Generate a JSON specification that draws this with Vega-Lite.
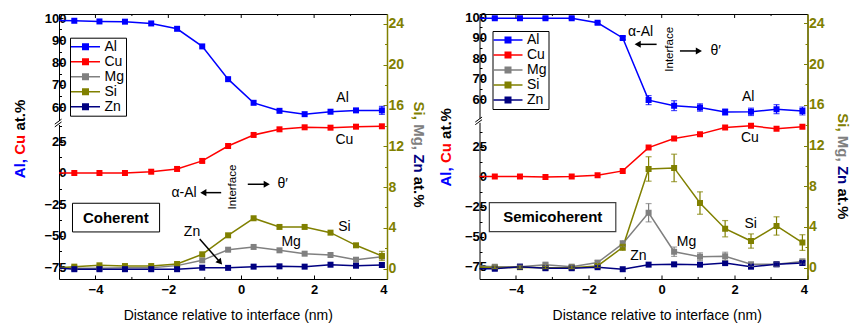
{
"$schema": "https://vega.github.io/schema/vega-lite/v6.json",
"padding": {"left": 12, "top": 10, "right": 0, "bottom": 0},
"bounds": "flush",
"spacing": 92.5,
"config": {
  "font": "Liberation Sans",
  "view": {"stroke": "#000000", "strokeWidth": 1},
  "axis": {"grid": false, "domain": false, "labelFont": "Liberation Sans", "labelFontSize": 13, "labelFontWeight": "bold", "labelColor": "#000000", "tickColor": "#000000", "tickSize": -4, "tickWidth": 1, "labelPadding": 8, "titleFont": "Liberation Sans", "titleFontSize": 15, "titleFontWeight": "bold", "titleColor": "#000000", "titleAlign": "center", "titleBaseline": "middle"},
  "axisLeft": {"titleAngle": -90, "labelPadding": -3},
  "axisRight": {"titleAngle": 90, "labelPadding": 5},
  "axisBottom": {"titleFontWeight": "normal", "titleFontSize": 14},
  "text": {"font": "Liberation Sans", "baseline": "middle", "align": "center"}
},
"datasets": {
"coh": [
{"el":"Al","x":-5.28,"v":99.0},{"el":"Al","x":-4.58,"v":98.8},{"el":"Al","x":-3.89,"v":98.5},{"el":"Al","x":-3.19,"v":98.4},{"el":"Al","x":-2.47,"v":97.6},{"el":"Al","x":-1.76,"v":95.2},{"el":"Al","x":-1.07,"v":87.3},{"el":"Al","x":-0.36,"v":72.6},{"el":"Al","x":0.34,"v":62.0},{"el":"Al","x":1.05,"v":58.4},{"el":"Al","x":1.74,"v":56.9},{"el":"Al","x":2.45,"v":58.0},{"el":"Al","x":3.15,"v":58.6},{"el":"Al","x":3.86,"v":58.6,"e":1.8},
{"el":"Cu","x":-5.28,"v":0},{"el":"Cu","x":-4.58,"v":0},{"el":"Cu","x":-3.89,"v":0},{"el":"Cu","x":-3.19,"v":0},{"el":"Cu","x":-2.47,"v":1.0},{"el":"Cu","x":-1.76,"v":3.2},{"el":"Cu","x":-1.07,"v":9.6},{"el":"Cu","x":-0.36,"v":21.5},{"el":"Cu","x":0.34,"v":30.3},{"el":"Cu","x":1.05,"v":34.8},{"el":"Cu","x":1.74,"v":36.4},{"el":"Cu","x":2.45,"v":36.1},{"el":"Cu","x":3.15,"v":36.9},{"el":"Cu","x":3.86,"v":37.2},
{"el":"Mg","x":-5.28,"v":0.05},{"el":"Mg","x":-4.58,"v":0.05},{"el":"Mg","x":-3.89,"v":0.05},{"el":"Mg","x":-3.19,"v":0.1},{"el":"Mg","x":-2.47,"v":0.1},{"el":"Mg","x":-1.76,"v":0.3},{"el":"Mg","x":-1.07,"v":0.82},{"el":"Mg","x":-0.36,"v":1.86},{"el":"Mg","x":0.34,"v":2.13},{"el":"Mg","x":1.05,"v":1.8},{"el":"Mg","x":1.74,"v":1.47},{"el":"Mg","x":2.45,"v":1.34},{"el":"Mg","x":3.15,"v":0.88},{"el":"Mg","x":3.86,"v":1.18},
{"el":"Si","x":-5.28,"v":0.0},{"el":"Si","x":-4.58,"v":0.2},{"el":"Si","x":-3.89,"v":0.33},{"el":"Si","x":-3.19,"v":0.26},{"el":"Si","x":-2.47,"v":0.26},{"el":"Si","x":-1.76,"v":0.46},{"el":"Si","x":-1.07,"v":1.41},{"el":"Si","x":-0.36,"v":3.27},{"el":"Si","x":0.34,"v":4.94},{"el":"Si","x":1.05,"v":4.09},{"el":"Si","x":1.74,"v":4.09},{"el":"Si","x":2.45,"v":3.53},{"el":"Si","x":3.15,"v":2.29},{"el":"Si","x":3.86,"v":1.25,"e":0.45},
{"el":"Zn","x":-5.28,"v":0.15},{"el":"Zn","x":-4.58,"v":-0.05},{"el":"Zn","x":-3.89,"v":-0.05},{"el":"Zn","x":-3.19,"v":-0.05},{"el":"Zn","x":-2.47,"v":-0.05},{"el":"Zn","x":-1.76,"v":-0.05},{"el":"Zn","x":-1.07,"v":0.1},{"el":"Zn","x":-0.36,"v":0.08},{"el":"Zn","x":0.34,"v":0.2},{"el":"Zn","x":1.05,"v":0.23},{"el":"Zn","x":1.74,"v":0.2},{"el":"Zn","x":2.45,"v":0.39},{"el":"Zn","x":3.15,"v":0.29},{"el":"Zn","x":3.86,"v":0.36,"e":0.2}
],
"semi": [
{"el":"Al","x":-5.28,"v":99.4},{"el":"Al","x":-4.58,"v":99.4,"e":0.5},{"el":"Al","x":-3.89,"v":99.4,"e":0.5},{"el":"Al","x":-3.19,"v":99.4,"e":0.5},{"el":"Al","x":-2.47,"v":99.4,"e":0.5},{"el":"Al","x":-1.76,"v":97.2,"e":0.6},{"el":"Al","x":-1.07,"v":89.8,"e":0.8},{"el":"Al","x":-0.36,"v":59.5,"e":2.2},{"el":"Al","x":0.34,"v":56.8,"e":2.4},{"el":"Al","x":1.05,"v":55.9,"e":1.8},{"el":"Al","x":1.74,"v":53.7,"e":1.5},{"el":"Al","x":2.45,"v":53.8,"e":1.8},{"el":"Al","x":3.15,"v":55.1,"e":2.2},{"el":"Al","x":3.86,"v":54.2,"e":1.9},
{"el":"Cu","x":-5.28,"v":0.25},{"el":"Cu","x":-4.58,"v":0.25},{"el":"Cu","x":-3.89,"v":0.25},{"el":"Cu","x":-3.19,"v":0},{"el":"Cu","x":-2.47,"v":0.25},{"el":"Cu","x":-1.76,"v":1.4},{"el":"Cu","x":-1.07,"v":5.0},{"el":"Cu","x":-0.36,"v":24.4},{"el":"Cu","x":0.34,"v":31.9},{"el":"Cu","x":1.05,"v":35.6},{"el":"Cu","x":1.74,"v":41.1},{"el":"Cu","x":2.45,"v":42.5},{"el":"Cu","x":3.15,"v":40.0},{"el":"Cu","x":3.86,"v":41.7},
{"el":"Mg","x":-5.28,"v":0.2},{"el":"Mg","x":-4.58,"v":0.1,"e":0.15},{"el":"Mg","x":-3.89,"v":0.1,"e":0.15},{"el":"Mg","x":-3.19,"v":0.3,"e":0.15},{"el":"Mg","x":-2.47,"v":0.1,"e":0.15},{"el":"Mg","x":-1.76,"v":0.5,"e":0.2},{"el":"Mg","x":-1.07,"v":2.36,"e":0.3},{"el":"Mg","x":-0.36,"v":5.4,"e":0.9},{"el":"Mg","x":0.34,"v":1.57,"e":0.46},{"el":"Mg","x":1.05,"v":1.08,"e":0.38},{"el":"Mg","x":1.74,"v":1.12,"e":0.4},{"el":"Mg","x":2.45,"v":0.33,"e":0.2},{"el":"Mg","x":3.15,"v":0.33,"e":0.2},{"el":"Mg","x":3.86,"v":0.6,"e":0.25},
{"el":"Si","x":-5.28,"v":0.1},{"el":"Si","x":-4.58,"v":0.0,"e":0.1},{"el":"Si","x":-3.89,"v":0.05,"e":0.1},{"el":"Si","x":-3.19,"v":0.0,"e":0.1},{"el":"Si","x":-2.47,"v":0.0,"e":0.1},{"el":"Si","x":-1.76,"v":0.17,"e":0.15},{"el":"Si","x":-1.07,"v":2.0,"e":0.3},{"el":"Si","x":-0.36,"v":9.7,"e":1.2},{"el":"Si","x":0.34,"v":9.8,"e":1.35},{"el":"Si","x":1.05,"v":6.35,"e":1.1},{"el":"Si","x":1.74,"v":3.83,"e":0.8},{"el":"Si","x":2.45,"v":2.62,"e":0.7},{"el":"Si","x":3.15,"v":4.1,"e":0.9},{"el":"Si","x":3.86,"v":2.47,"e":0.77},
{"el":"Zn","x":-5.28,"v":-0.1},{"el":"Zn","x":-4.58,"v":-0.1},{"el":"Zn","x":-3.89,"v":0.1},{"el":"Zn","x":-3.19,"v":-0.05},{"el":"Zn","x":-2.47,"v":-0.05},{"el":"Zn","x":-1.76,"v":0.05},{"el":"Zn","x":-1.07,"v":-0.15},{"el":"Zn","x":-0.36,"v":0.3},{"el":"Zn","x":0.34,"v":0.33,"e":0.15},{"el":"Zn","x":1.05,"v":0.3,"e":0.15},{"el":"Zn","x":1.74,"v":0.45,"e":0.15},{"el":"Zn","x":2.45,"v":0.1,"e":0.15},{"el":"Zn","x":3.15,"v":0.33,"e":0.15},{"el":"Zn","x":3.86,"v":0.45,"e":0.2}
],
"annC": [
{"k":"label","t":"Al","x":2.78,"y":16.7},{"k":"label","t":"Cu","x":2.83,"y":12.58},{"k":"label","t":"Si","x":2.83,"y":4.12},{"k":"label","t":"Mg","x":1.37,"y":2.65},{"k":"label","t":"Zn","x":-1.35,"y":3.63},{"k":"label","t":"α-Al","x":-1.57,"y":7.45},{"k":"label","t":"θ′","x":1.14,"y":8.27},
{"k":"iface","t":"Interface","x":-0.23,"y":8.0},
{"k":"box","x":-4.63,"x2":-2.24,"y":3.6,"y2":6.41},
{"k":"boxlabel","t":"Coherent","x":-3.44,"y":5.0},
{"k":"arrow","x":-0.55,"x2":-1.04,"y":7.45,"y2":7.45},{"k":"arrow","x":0.18,"x2":0.70,"y":8.27,"y2":8.27},{"k":"arrow","x":-1.14,"x2":-0.58,"y":2.91,"y2":0.63},
{"k":"headL","x":-1.04,"y":7.45},{"k":"headR","x":0.70,"y":8.27},{"k":"headD","x":-0.58,"y":0.63},
{"k":"gap","x":-5.04,"x2":-4.96,"y":14.08,"y2":14.47},
{"k":"brk","x":-5.115,"x2":-4.93,"y":14.16,"y2":14.65},{"k":"brk","x":-5.115,"x2":-4.93,"y":13.89,"y2":14.38},
{"k":"tk","x":-4,"y":24.95,"y2":24.56},{"k":"tk","x":-2,"y":24.95,"y2":24.56},{"k":"tk","x":0,"y":24.95,"y2":24.56},{"k":"tk","x":2,"y":24.95,"y2":24.56},
{"k":"tk","x":-3,"y":24.95,"y2":24.75},{"k":"tk","x":-1,"y":24.95,"y2":24.75},{"k":"tk","x":1,"y":24.95,"y2":24.75},{"k":"tk","x":3,"y":24.95,"y2":24.75},
{"k":"tk","x":-3,"y":-1.01,"y2":-0.81},{"k":"tk","x":-1,"y":-1.01,"y2":-0.81},{"k":"tk","x":1,"y":-1.01,"y2":-0.81},{"k":"tk","x":3,"y":-1.01,"y2":-0.81}
],
"annS": [
{"k":"label","t":"Al","x":2.37,"y":16.8},{"k":"label","t":"Cu","x":2.42,"y":12.77},{"k":"label","t":"Si","x":2.44,"y":4.26},{"k":"label","t":"Mg","x":0.68,"y":2.55},{"k":"label","t":"Zn","x":-0.64,"y":1.15},{"k":"label","t":"α-Al","x":-0.58,"y":23.18},{"k":"label","t":"θ′","x":1.48,"y":21.29},
{"k":"iface","t":"Interface","x":0.24,"y":21.45},
{"k":"box","x":-4.73,"x2":-1.26,"y":3.54,"y2":6.39},
{"k":"boxlabel","t":"Semicoherent","x":-2.99,"y":4.96},
{"k":"arrow","x":-0.14,"x2":-0.66,"y":21.94,"y2":21.94},{"k":"arrow","x":0.50,"x2":1.02,"y":21.29,"y2":21.29},
{"k":"headL","x":-0.66,"y":21.94},{"k":"headR","x":1.02,"y":21.29},
{"k":"gap","x":-5.04,"x2":-4.96,"y":14.23,"y2":14.62},
{"k":"brk","x":-5.115,"x2":-4.93,"y":14.31,"y2":14.8},{"k":"brk","x":-5.115,"x2":-4.93,"y":14.05,"y2":14.54},
{"k":"tk","x":-4,"y":24.92,"y2":24.53},{"k":"tk","x":-2,"y":24.92,"y2":24.53},{"k":"tk","x":0,"y":24.92,"y2":24.53},{"k":"tk","x":2,"y":24.92,"y2":24.53},
{"k":"tk","x":-3,"y":24.92,"y2":24.72},{"k":"tk","x":-1,"y":24.92,"y2":24.72},{"k":"tk","x":1,"y":24.92,"y2":24.72},{"k":"tk","x":3,"y":24.92,"y2":24.72},
{"k":"tk","x":-3,"y":-1.11,"y2":-0.91},{"k":"tk","x":-1,"y":-1.11,"y2":-0.91},{"k":"tk","x":1,"y":-1.11,"y2":-0.91},{"k":"tk","x":3,"y":-1.11,"y2":-0.91}
]
},
"resolve": {"scale": {"color": "independent"}},
"hconcat": [
{
"width": 328, "height": 265,
"resolve": {"scale": {"y": "independent"}, "axis": {"y": "independent"}},
"layer": [
{"data": {"name": "coh"}, "transform": [{"filter": "datum.el === 'Al'"}],
 "mark": {"type": "line", "color": "#0000ff", "strokeWidth": 1.5, "clip": true, "point": {"filled": true, "shape": "square", "size": 36, "color": "#0000ff", "clip": true}},
 "encoding": {
  "x": {"field": "x", "type": "quantitative", "scale": {"domain": [-5, 4], "nice": false, "zero": false}, "axis": {"values": [-4, -2, 0, 2, 4], "title": "Distance relative to interface (nm)", "titleX": 168.8, "titleY": 36.3}},
  "y": {"field": "v", "type": "quantitative", "scale": {"domain": [-17.05, 101.84], "nice": false, "zero": false}, "axis": {"orient": "left", "values": [60, 70, 80, 90, 100], "title": "Al,", "titleColor": "#0000ff", "titleX": -39.5, "titleY": 154.1}}}},
{"data": {"name": "coh"}, "transform": [{"filter": "datum.el === 'Al' && isValid(datum.e)"}],
 "mark": {"type": "errorbar", "color": "#0000ff", "thickness": 1.2, "ticks": {"size": 6}},
 "encoding": {
  "x": {"field": "x", "type": "quantitative", "scale": {"domain": [-5, 4], "nice": false, "zero": false}},
  "y": {"field": "v", "type": "quantitative", "scale": {"domain": [-17.05, 101.84], "nice": false, "zero": false}, "axis": {"orient": "left", "title": "at.%", "values": [65, 75, 85, 95], "labels": false, "tickSize": -2.5, "titleX": -39.5, "titleY": 100.7}},
  "yError": {"field": "e"}}},
{"data": {"name": "coh"}, "transform": [{"filter": "datum.el === 'Cu'"}],
 "mark": {"type": "point", "opacity": 0},
 "encoding": {
  "x": {"field": "x", "type": "quantitative", "scale": {"domain": [-5, 4], "nice": false, "zero": false}},
  "y": {"field": "v", "type": "quantitative", "scale": {"domain": [-84.5, 126.7], "nice": false, "zero": false}, "axis": {"orient": "left", "values": [37.5, 12.5, -12.5, -37.5, -62.5], "labels": false, "tickSize": -2.5, "title": null}}}},
{"data": {"name": "coh"}, "transform": [{"filter": "datum.el === 'Cu'"}],
 "mark": {"type": "line", "color": "#ff0000", "strokeWidth": 1.5, "clip": true, "point": {"filled": true, "shape": "square", "size": 36, "color": "#ff0000", "clip": true}},
 "encoding": {
  "x": {"field": "x", "type": "quantitative", "scale": {"domain": [-5, 4], "nice": false, "zero": false}},
  "y": {"field": "v", "type": "quantitative", "scale": {"domain": [-84.5, 126.7], "nice": false, "zero": false}, "axis": {"orient": "left", "values": [-75, -50, -25, 0, 25], "title": "Cu", "titleColor": "#ff0000", "titleX": -39.5, "titleY": 130.3}}}},
{"data": {"name": "coh"}, "transform": [{"filter": "indexof(['Mg','Si','Zn'], datum.el) >= 0"}],
 "mark": {"type": "line", "strokeWidth": 1.5, "clip": true, "point": {"filled": true, "shape": "square", "size": 36, "clip": true}},
 "encoding": {
  "x": {"field": "x", "type": "quantitative", "scale": {"domain": [-5, 4], "nice": false, "zero": false}},
  "y": {"field": "v", "type": "quantitative", "scale": {"domain": [-1.01, 24.95], "nice": false, "zero": false}, "axis": {"orient": "right", "values": [0, 4, 8, 12, 16, 20, 24], "domain": true, "domainColor": "#808000", "domainWidth": 1.5, "tickColor": "#808000", "labelColor": "#808000", "labelFontSize": 14, "title": "Si,", "titleColor": "#808000", "titleX": 31.1, "titleY": 96.2}},
  "color": {"field": "el", "type": "nominal", "scale": {"domain": ["Al", "Cu", "Mg", "Si", "Zn"], "range": ["#0000ff", "#ff0000", "#808080", "#808000", "#000080"]},
   "legend": {"title": null, "orient": "none", "legendX": 11, "legendY": 23.7, "symbolType": "M-3.625,-0.2L3.625,-0.2L3.625,0.2L-3.625,0.2ZM-0.875,-0.875L0.875,-0.875L0.875,0.875L-0.875,0.875Z", "symbolSize": 64, "symbolOffset": 6.5, "symbolStrokeWidth": 0, "labelOffset": 12, "labelFont": "Liberation Sans", "labelFontSize": 14, "labelColor": "#000000", "strokeColor": "#000000", "fillColor": "#ffffff", "padding": 2, "rowPadding": 1,
    "encoding": {"symbols": {"update": {"fill": {"signal": "datum.value === 'Al' ? '#0000ff' : datum.value === 'Cu' ? '#ff0000' : datum.value === 'Mg' ? '#808080' : datum.value === 'Si' ? '#808000' : '#000080'"}, "stroke": {"value": "transparent"}, "opacity": {"value": 1}}}}}}}},
{"data": {"name": "coh"}, "transform": [{"filter": "datum.el === 'Si' && isValid(datum.e)"}],
 "mark": {"type": "errorbar", "color": "#808000", "thickness": 1.2, "ticks": {"size": 6}},
 "encoding": {
  "x": {"field": "x", "type": "quantitative", "scale": {"domain": [-5, 4], "nice": false, "zero": false}},
  "y": {"field": "v", "type": "quantitative", "scale": {"domain": [-1.01, 24.95], "nice": false, "zero": false}, "axis": {"orient": "right", "values": [2, 6, 10, 14, 18, 22], "labels": false, "tickSize": -2.5, "tickColor": "#808000", "title": null}},
  "yError": {"field": "e"}}},
{"data": {"name": "coh"}, "transform": [{"filter": "datum.el === 'Zn' && isValid(datum.e)"}],
 "mark": {"type": "errorbar", "color": "#000080", "thickness": 1.2, "ticks": {"size": 6}},
 "encoding": {
  "x": {"field": "x", "type": "quantitative", "scale": {"domain": [-5, 4], "nice": false, "zero": false}},
  "y": {"field": "v", "type": "quantitative", "scale": {"domain": [-1.01, 24.95], "nice": false, "zero": false}, "axis": null},
  "yError": {"field": "e"}}},
{"mark": {"type": "rule", "color": "#000000", "strokeWidth": 1},
 "encoding": {"x": {"datum": 0, "type": "quantitative", "scale": {"domain": [-5, 4], "nice": false, "zero": false}}}},
{"data": {"name": "annC"}, "transform": [{"filter": "datum.k === 'tk'"}],
 "mark": {"type": "rule", "color": "#000000", "strokeWidth": 1},
 "encoding": {
  "x": {"field": "x", "type": "quantitative", "scale": {"domain": [-5, 4], "nice": false, "zero": false}},
  "y": {"field": "y", "type": "quantitative", "scale": {"domain": [-1.01, 24.95], "nice": false, "zero": false}, "axis": null}, "y2": {"field": "y2"}}},
{"data": {"name": "annC"}, "transform": [{"filter": "datum.k === 'box' || datum.k === 'gap'"}],
 "mark": {"type": "rect", "fill": "#ffffff", "stroke": "#000000", "strokeWidth": 1},
 "encoding": {
  "x": {"field": "x", "type": "quantitative", "scale": {"domain": [-5, 4], "nice": false, "zero": false}}, "x2": {"field": "x2"},
  "y": {"field": "y", "type": "quantitative", "scale": {"domain": [-1.01, 24.95], "nice": false, "zero": false}, "axis": null}, "y2": {"field": "y2"},
  "strokeOpacity": {"condition": {"test": "datum.k === 'gap'", "value": 0}, "value": 1}}},
{"data": {"name": "annC"}, "transform": [{"filter": "datum.k === 'brk'"}],
 "mark": {"type": "rule", "color": "#000000", "strokeWidth": 1},
 "encoding": {
  "x": {"field": "x", "type": "quantitative", "scale": {"domain": [-5, 4], "nice": false, "zero": false}}, "x2": {"field": "x2"},
  "y": {"field": "y", "type": "quantitative", "scale": {"domain": [-1.01, 24.95], "nice": false, "zero": false}, "axis": null}, "y2": {"field": "y2"}}},
{"data": {"name": "annC"}, "transform": [{"filter": "datum.k === 'boxlabel'"}],
 "mark": {"type": "text", "fontSize": 15, "fontWeight": "bold", "color": "#000000"},
 "encoding": {
  "x": {"field": "x", "type": "quantitative", "scale": {"domain": [-5, 4], "nice": false, "zero": false}},
  "y": {"field": "y", "type": "quantitative", "scale": {"domain": [-1.01, 24.95], "nice": false, "zero": false}, "axis": null},
  "text": {"field": "t"}}},
{"data": {"name": "annC"}, "transform": [{"filter": "datum.k === 'label'"}],
 "mark": {"type": "text", "fontSize": 14, "color": "#000000"},
 "encoding": {
  "x": {"field": "x", "type": "quantitative", "scale": {"domain": [-5, 4], "nice": false, "zero": false}},
  "y": {"field": "y", "type": "quantitative", "scale": {"domain": [-1.01, 24.95], "nice": false, "zero": false}, "axis": {"orient": "right", "title": "Mg,", "titleColor": "#808080", "labels": false, "ticks": false, "titleX": 31.1, "titleY": 122.55}},
  "text": {"field": "t"}}},
{"data": {"name": "annC"}, "transform": [{"filter": "datum.k === 'iface'"}],
 "mark": {"type": "text", "fontSize": 11.5, "angle": 270, "color": "#000000"},
 "encoding": {
  "x": {"field": "x", "type": "quantitative", "scale": {"domain": [-5, 4], "nice": false, "zero": false}},
  "y": {"field": "y", "type": "quantitative", "scale": {"domain": [-1.01, 24.95], "nice": false, "zero": false}, "axis": null},
  "text": {"field": "t"}}},
{"data": {"name": "annC"}, "transform": [{"filter": "datum.k === 'arrow'"}],
 "mark": {"type": "rule", "color": "#000000", "strokeWidth": 1.5},
 "encoding": {
  "x": {"field": "x", "type": "quantitative", "scale": {"domain": [-5, 4], "nice": false, "zero": false}}, "x2": {"field": "x2"},
  "y": {"field": "y", "type": "quantitative", "scale": {"domain": [-1.01, 24.95], "nice": false, "zero": false}, "axis": {"orient": "right", "title": "Zn", "titleColor": "#000080", "labels": false, "ticks": false, "titleX": 31.1, "titleY": 148.9}}, "y2": {"field": "y2"}}},
{"data": {"name": "annC"}, "transform": [{"filter": "datum.k === 'headL'"}],
 "mark": {"type": "point", "shape": "triangle-left", "filled": true, "size": 50, "color": "#000000", "opacity": 1},
 "encoding": {
  "x": {"field": "x", "type": "quantitative", "scale": {"domain": [-5, 4], "nice": false, "zero": false}},
  "y": {"field": "y", "type": "quantitative", "scale": {"domain": [-1.01, 24.95], "nice": false, "zero": false}, "axis": null}}},
{"data": {"name": "annC"}, "transform": [{"filter": "datum.k === 'headR'"}],
 "mark": {"type": "point", "shape": "triangle-right", "filled": true, "size": 50, "color": "#000000", "opacity": 1},
 "encoding": {
  "x": {"field": "x", "type": "quantitative", "scale": {"domain": [-5, 4], "nice": false, "zero": false}},
  "y": {"field": "y", "type": "quantitative", "scale": {"domain": [-1.01, 24.95], "nice": false, "zero": false}, "axis": {"orient": "right", "title": "at.%", "titleColor": "#000000", "labels": false, "ticks": false, "titleX": 31.1, "titleY": 177.7}}}},
{"data": {"name": "annC"}, "transform": [{"filter": "datum.k === 'headD'"}],
 "mark": {"type": "point", "shape": "triangle-up", "angle": 139, "filled": true, "size": 50, "color": "#000000", "opacity": 1},
 "encoding": {
  "x": {"field": "x", "type": "quantitative", "scale": {"domain": [-5, 4], "nice": false, "zero": false}},
  "y": {"field": "y", "type": "quantitative", "scale": {"domain": [-1.01, 24.95], "nice": false, "zero": false}, "axis": null}}}
]
},
{
"width": 328, "height": 265,
"resolve": {"scale": {"y": "independent"}, "axis": {"y": "independent"}},
"layer": [
{"data": {"name": "semi"}, "transform": [{"filter": "datum.el === 'Al'"}],
 "mark": {"type": "line", "color": "#0000ff", "strokeWidth": 1.5, "clip": true, "point": {"filled": true, "shape": "square", "size": 36, "color": "#0000ff", "clip": true}},
 "encoding": {
  "x": {"field": "x", "type": "quantitative", "scale": {"domain": [-5, 4], "nice": false, "zero": false}, "axis": {"values": [-4, -2, 0, 2, 4], "title": "Distance relative to interface (nm)", "titleX": 177.2, "titleY": 36.3}},
  "y": {"field": "v", "type": "quantitative", "scale": {"domain": [-27.67, 101.47], "nice": false, "zero": false}, "axis": {"orient": "left", "values": [60, 70, 80, 90, 100], "title": "Al,", "titleColor": "#0000ff", "titleX": -34.2, "titleY": 162.4}}}},
{"data": {"name": "semi"}, "transform": [{"filter": "datum.el === 'Al' && isValid(datum.e)"}],
 "mark": {"type": "errorbar", "color": "#0000ff", "thickness": 1.2, "ticks": {"size": 6}},
 "encoding": {
  "x": {"field": "x", "type": "quantitative", "scale": {"domain": [-5, 4], "nice": false, "zero": false}},
  "y": {"field": "v", "type": "quantitative", "scale": {"domain": [-27.67, 101.47], "nice": false, "zero": false}, "axis": {"orient": "left", "title": "at.%", "values": [65, 75, 85, 95], "labels": false, "tickSize": -2.5, "titleX": -34.2, "titleY": 109}},
  "yError": {"field": "e"}}},
{"data": {"name": "semi"}, "transform": [{"filter": "datum.el === 'Cu'"}],
 "mark": {"type": "point", "opacity": 0},
 "encoding": {
  "x": {"field": "x", "type": "quantitative", "scale": {"domain": [-5, 4], "nice": false, "zero": false}},
  "y": {"field": "v", "type": "quantitative", "scale": {"domain": [-85.0, 135.6], "nice": false, "zero": false}, "axis": {"orient": "left", "values": [37.5, 12.5, -12.5, -37.5, -62.5], "labels": false, "tickSize": -2.5, "title": null}}}},
{"data": {"name": "semi"}, "transform": [{"filter": "datum.el === 'Cu'"}],
 "mark": {"type": "line", "color": "#ff0000", "strokeWidth": 1.5, "clip": true, "point": {"filled": true, "shape": "square", "size": 36, "color": "#ff0000", "clip": true}},
 "encoding": {
  "x": {"field": "x", "type": "quantitative", "scale": {"domain": [-5, 4], "nice": false, "zero": false}},
  "y": {"field": "v", "type": "quantitative", "scale": {"domain": [-85.0, 135.6], "nice": false, "zero": false}, "axis": {"orient": "left", "values": [-75, -50, -25, 0, 25], "title": "Cu", "titleColor": "#ff0000", "titleX": -34.2, "titleY": 138.6}}}},
{"data": {"name": "semi"}, "transform": [{"filter": "indexof(['Mg','Si','Zn'], datum.el) >= 0"}],
 "mark": {"type": "line", "strokeWidth": 1.5, "clip": true, "point": {"filled": true, "shape": "square", "size": 36, "clip": true}},
 "encoding": {
  "x": {"field": "x", "type": "quantitative", "scale": {"domain": [-5, 4], "nice": false, "zero": false}},
  "y": {"field": "v", "type": "quantitative", "scale": {"domain": [-1.11, 24.92], "nice": false, "zero": false}, "axis": {"orient": "right", "values": [0, 4, 8, 12, 16, 20, 24], "domain": true, "domainColor": "#808000", "domainWidth": 1.5, "tickColor": "#808000", "labelColor": "#808000", "labelFontSize": 14, "title": "Si,", "titleColor": "#808000", "titleX": 34.5, "titleY": 107.9}},
  "color": {"field": "el", "type": "nominal", "scale": {"domain": ["Al", "Cu", "Mg", "Si", "Zn"], "range": ["#0000ff", "#ff0000", "#808080", "#808000", "#000080"]},
   "legend": {"title": null, "orient": "none", "legendX": 13, "legendY": 17, "symbolType": "M-3.625,-0.2L3.625,-0.2L3.625,0.2L-3.625,0.2ZM-0.875,-0.875L0.875,-0.875L0.875,0.875L-0.875,0.875Z", "symbolSize": 64, "symbolOffset": 6.5, "symbolStrokeWidth": 0, "labelOffset": 12, "labelFont": "Liberation Sans", "labelFontSize": 14, "labelColor": "#000000", "strokeColor": "#000000", "fillColor": "#ffffff", "padding": 2, "rowPadding": 1,
    "encoding": {"symbols": {"update": {"fill": {"signal": "datum.value === 'Al' ? '#0000ff' : datum.value === 'Cu' ? '#ff0000' : datum.value === 'Mg' ? '#808080' : datum.value === 'Si' ? '#808000' : '#000080'"}, "stroke": {"value": "transparent"}, "opacity": {"value": 1}}}}}}}},
{"data": {"name": "semi"}, "transform": [{"filter": "datum.el === 'Mg' && isValid(datum.e)"}],
 "mark": {"type": "errorbar", "color": "#808080", "thickness": 1.2, "ticks": {"size": 6}},
 "encoding": {
  "x": {"field": "x", "type": "quantitative", "scale": {"domain": [-5, 4], "nice": false, "zero": false}},
  "y": {"field": "v", "type": "quantitative", "scale": {"domain": [-1.11, 24.92], "nice": false, "zero": false}, "axis": {"orient": "right", "values": [2, 6, 10, 14, 18, 22], "labels": false, "tickSize": -2.5, "tickColor": "#808000", "title": null}},
  "yError": {"field": "e"}}},
{"data": {"name": "semi"}, "transform": [{"filter": "datum.el === 'Si' && isValid(datum.e)"}],
 "mark": {"type": "errorbar", "color": "#808000", "thickness": 1.2, "ticks": {"size": 6}},
 "encoding": {
  "x": {"field": "x", "type": "quantitative", "scale": {"domain": [-5, 4], "nice": false, "zero": false}},
  "y": {"field": "v", "type": "quantitative", "scale": {"domain": [-1.11, 24.92], "nice": false, "zero": false}, "axis": null},
  "yError": {"field": "e"}}},
{"data": {"name": "semi"}, "transform": [{"filter": "datum.el === 'Zn' && isValid(datum.e)"}],
 "mark": {"type": "errorbar", "color": "#000080", "thickness": 1.2, "ticks": {"size": 6}},
 "encoding": {
  "x": {"field": "x", "type": "quantitative", "scale": {"domain": [-5, 4], "nice": false, "zero": false}},
  "y": {"field": "v", "type": "quantitative", "scale": {"domain": [-1.11, 24.92], "nice": false, "zero": false}, "axis": null},
  "yError": {"field": "e"}}},
{"mark": {"type": "rule", "color": "#404040", "strokeWidth": 1.2},
 "encoding": {"x": {"datum": 0, "type": "quantitative", "scale": {"domain": [-5, 4], "nice": false, "zero": false}}}},
{"data": {"name": "annS"}, "transform": [{"filter": "datum.k === 'tk'"}],
 "mark": {"type": "rule", "color": "#000000", "strokeWidth": 1},
 "encoding": {
  "x": {"field": "x", "type": "quantitative", "scale": {"domain": [-5, 4], "nice": false, "zero": false}},
  "y": {"field": "y", "type": "quantitative", "scale": {"domain": [-1.11, 24.92], "nice": false, "zero": false}, "axis": null}, "y2": {"field": "y2"}}},
{"data": {"name": "annS"}, "transform": [{"filter": "datum.k === 'box' || datum.k === 'gap'"}],
 "mark": {"type": "rect", "fill": "#ffffff", "stroke": "#404040", "strokeWidth": 1.2},
 "encoding": {
  "x": {"field": "x", "type": "quantitative", "scale": {"domain": [-5, 4], "nice": false, "zero": false}}, "x2": {"field": "x2"},
  "y": {"field": "y", "type": "quantitative", "scale": {"domain": [-1.11, 24.92], "nice": false, "zero": false}, "axis": null}, "y2": {"field": "y2"},
  "strokeOpacity": {"condition": {"test": "datum.k === 'gap'", "value": 0}, "value": 1}}},
{"data": {"name": "annS"}, "transform": [{"filter": "datum.k === 'brk'"}],
 "mark": {"type": "rule", "color": "#000000", "strokeWidth": 1},
 "encoding": {
  "x": {"field": "x", "type": "quantitative", "scale": {"domain": [-5, 4], "nice": false, "zero": false}}, "x2": {"field": "x2"},
  "y": {"field": "y", "type": "quantitative", "scale": {"domain": [-1.11, 24.92], "nice": false, "zero": false}, "axis": null}, "y2": {"field": "y2"}}},
{"data": {"name": "annS"}, "transform": [{"filter": "datum.k === 'boxlabel'"}],
 "mark": {"type": "text", "fontSize": 15, "fontWeight": "bold", "color": "#000000"},
 "encoding": {
  "x": {"field": "x", "type": "quantitative", "scale": {"domain": [-5, 4], "nice": false, "zero": false}},
  "y": {"field": "y", "type": "quantitative", "scale": {"domain": [-1.11, 24.92], "nice": false, "zero": false}, "axis": null},
  "text": {"field": "t"}}},
{"data": {"name": "annS"}, "transform": [{"filter": "datum.k === 'label'"}],
 "mark": {"type": "text", "fontSize": 14, "color": "#000000"},
 "encoding": {
  "x": {"field": "x", "type": "quantitative", "scale": {"domain": [-5, 4], "nice": false, "zero": false}},
  "y": {"field": "y", "type": "quantitative", "scale": {"domain": [-1.11, 24.92], "nice": false, "zero": false}, "axis": {"orient": "right", "title": "Mg,", "titleColor": "#808080", "labels": false, "ticks": false, "titleX": 34.5, "titleY": 134.25}},
  "text": {"field": "t"}}},
{"data": {"name": "annS"}, "transform": [{"filter": "datum.k === 'iface'"}],
 "mark": {"type": "text", "fontSize": 11.5, "angle": 270, "color": "#000000"},
 "encoding": {
  "x": {"field": "x", "type": "quantitative", "scale": {"domain": [-5, 4], "nice": false, "zero": false}},
  "y": {"field": "y", "type": "quantitative", "scale": {"domain": [-1.11, 24.92], "nice": false, "zero": false}, "axis": null},
  "text": {"field": "t"}}},
{"data": {"name": "annS"}, "transform": [{"filter": "datum.k === 'arrow'"}],
 "mark": {"type": "rule", "color": "#000000", "strokeWidth": 1.5},
 "encoding": {
  "x": {"field": "x", "type": "quantitative", "scale": {"domain": [-5, 4], "nice": false, "zero": false}}, "x2": {"field": "x2"},
  "y": {"field": "y", "type": "quantitative", "scale": {"domain": [-1.11, 24.92], "nice": false, "zero": false}, "axis": {"orient": "right", "title": "Zn", "titleColor": "#000080", "labels": false, "ticks": false, "titleX": 34.5, "titleY": 160.6}}, "y2": {"field": "y2"}}},
{"data": {"name": "annS"}, "transform": [{"filter": "datum.k === 'headL'"}],
 "mark": {"type": "point", "shape": "triangle-left", "filled": true, "size": 50, "color": "#000000", "opacity": 1},
 "encoding": {
  "x": {"field": "x", "type": "quantitative", "scale": {"domain": [-5, 4], "nice": false, "zero": false}},
  "y": {"field": "y", "type": "quantitative", "scale": {"domain": [-1.11, 24.92], "nice": false, "zero": false}, "axis": null}}},
{"data": {"name": "annS"}, "transform": [{"filter": "datum.k === 'headR'"}],
 "mark": {"type": "point", "shape": "triangle-right", "filled": true, "size": 50, "color": "#000000", "opacity": 1},
 "encoding": {
  "x": {"field": "x", "type": "quantitative", "scale": {"domain": [-5, 4], "nice": false, "zero": false}},
  "y": {"field": "y", "type": "quantitative", "scale": {"domain": [-1.11, 24.92], "nice": false, "zero": false}, "axis": {"orient": "right", "title": "at.%", "titleColor": "#000000", "labels": false, "ticks": false, "titleX": 34.5, "titleY": 189.4}}}}
]
}
]
}
